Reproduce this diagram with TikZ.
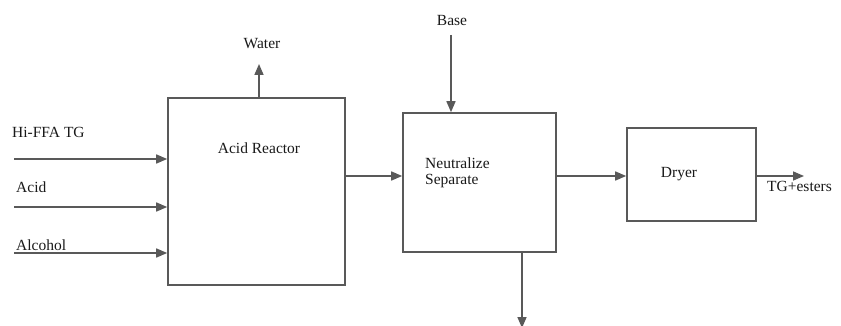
\documentclass[tikz,border=0pt]{standalone}
\usepackage{fontspec}
\setmainfont{Liberation Serif}
\usetikzlibrary{arrows.meta}
\begin{document}
\begin{tikzpicture}[x=1pt,y=-1pt,
  box/.style={draw=black!65, line width=1.6pt, rectangle, inner sep=0pt},
  flow/.style={draw=black!65, line width=1.6pt, -{Triangle[length=11pt,width=9pt]}},
  lbl/.style={font=\fontsize{15.5}{18}\selectfont, text=black!90, inner sep=0pt}]
\useasboundingbox (0,0) rectangle (841,326);
% boxes
\node[box, minimum width=177pt, minimum height=187pt] (reactor) at (256.5,191.5) {};
\node[box, minimum width=153pt, minimum height=139pt] (neut) at (479.5,182.5) {};
\node[box, minimum width=129pt, minimum height=93pt] (dryer) at (691.5,174.5) {};
% box labels
\node[lbl] (reactorlbl) at (259,148) {Acid Reactor};
\node[lbl, anchor=base west] (neutlbl) at (425,169) {Neutralize};
\node[lbl, anchor=base west] (seplbl) at (425,185) {Separate};
\node[lbl, anchor=base] (dryerlbl) at (679,178) {Dryer};
% input labels
\node[lbl, anchor=base west] (tglbl) at (12,138) {Hi-FFA TG};
\node[lbl, anchor=base west] (acidlbl) at (16,193) {Acid};
\node[lbl, anchor=base west] (alclbl) at (16,250) {Alcohol};
\node[lbl, anchor=base] (waterlbl) at (262,49) {Water};
\node[lbl, anchor=base] (baselbl) at (452,26) {Base};
\node[lbl, anchor=base west] (outlbl) at (767,192) {TG+esters};
% coordinates
\coordinate (in1) at (14,159);
\coordinate (in2) at (14,207);
\coordinate (in3) at (14,253);
\coordinate (w) at (259,64);
\coordinate (b) at (451,35);
\coordinate (bt) at (522,328);
\coordinate (mid) at (0,176);
\coordinate (out) at (804,176);
% flows
\draw[flow] (in1) -- (reactor.west |- in1);
\draw[flow] (in2) -- (reactor.west |- in2);
\draw[flow] (in3) -- (reactor.west |- in3);
\draw[flow] (w |- reactor.north) -- (w);
\draw[flow] (b) -- (b |- neut.north);
\draw[flow] (bt |- neut.south) -- (bt);
\draw[flow] (reactor.east |- mid) -- (neut.west |- mid);
\draw[flow] (neut.east |- mid) -- (dryer.west |- mid);
\draw[flow] (dryer.east |- mid) -- (out);
\end{tikzpicture}
\end{document}
